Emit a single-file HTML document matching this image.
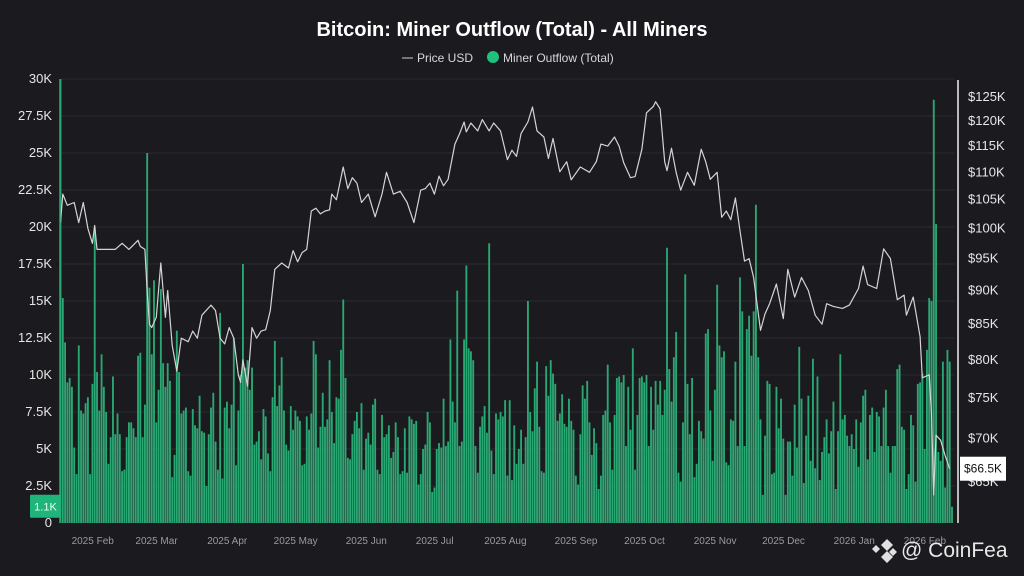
<!DOCTYPE html>
<html><head><meta charset="utf-8"><style>
html,body{margin:0;padding:0;background:#1b1b1f;}
#wrap{position:relative;width:1024px;height:576px;overflow:hidden;background:#1b1b1f;font-family:"Liberation Sans",sans-serif;}
svg text{font-family:"Liberation Sans",sans-serif;}
</style></head><body>
<div id="wrap">
<svg id="chart" width="1024" height="576">
<text x="512" y="36" text-anchor="middle" fill="#ffffff" font-size="20" font-weight="bold">Bitcoin: Miner Outflow (Total) - All Miners</text>
<g>
<g><line x1="402" y1="58" x2="413" y2="58" stroke="#cfcfcf" stroke-width="1"/><text x="417" y="62" fill="#d8d8d8" font-size="12">Price USD</text></g>
<g><circle cx="493" cy="57" r="6" fill="#21c07f"/><text x="503" y="62" fill="#d8d8d8" font-size="12">Miner Outflow (Total)</text></g>
</g>
<g id="grid"></g>
<g id="bars"></g>
<g id="price"></g>
<g id="axes"></g>
</svg>
</div>
<script>
const outflowK = [
30,15.2,12.2,9.5,9.8,9.2,5.1,3.3,12,7.6,
7.4,8.1,8.5,3.3,9.4,20,10.2,7.6,11.4,9.2,
7.5,4,5.8,9.9,6,7.4,6,3.5,3.6,5.8,
6.8,6.8,6.4,5.8,11.3,11.5,5.8,8,25,15.9,
11.4,16.4,6.8,9,15.8,10.8,9.2,10.8,9.6,3.1,
4.6,13,10.2,7.4,7.6,7.8,3.5,3.2,7.7,6.6,
6.4,8.6,6.2,6.1,2.5,6,7.8,8.8,5.5,3.6,
14.2,3,7.8,8.2,6.4,8,12.5,3.9,7.6,10,
17.5,10.5,11,9,10.5,5.3,5.5,6.2,4.3,7.7,
7.2,4.7,3.5,8.5,12.3,7.9,9.3,11.2,7.6,5.3,
4.9,7.9,6.3,7.6,7.2,6.9,3.9,4,7.2,6.3,
7.4,12.3,11.4,5.1,6.5,8.8,6.5,7,11,
7.5,5.4,8.5,8.4,11.7,15.1,
9.8,4.4,4.3,6,6.9,7.5,6.4,8.1,3.6,5.7,6.1,5.3,8,8.4,3.6,3.3,7.3,5.8,6,6.6,4.4,4.8,6.8,5.8,3.3,3.5,6.4,3.4,7.2,7,6.7,6.9,2.6,3.3,5,5.3,7.5,6.8,2.1,2.4,5,5.4,5.1,8.4,5.2,5.5,12.4,8.2,6.8,
15.7,5.2,5.5,12.4,17.4,
11.8,11.6,11,5.2,3.4,6.5,7.2,7.9,6.1,18.9,
4.9,3.3,7.4,7,7.5,7.2,8.3,3.2,8.3,2.9,6.6,4,5,6.3,4,5.8,15,
7.5,6.2,9.1,10.9,6.5,3.5,3.4,10.6,8.6,11,10.1,9.4,6.9,7.4,8.7,6.7,6.5,8.4,6.9,6.3,3.2,2.6,6,9.3,8.4,9.6,6.8,4.6,6.4,5.4,2.3,3.2,7.3,7.6,10.7,
6.8,3.6,7.3,9.8,9.9,9.5,10,5.2,9.2,6.3,11.8,
3.6,7.3,9.8,9.9,9.5,10,5.2,9.2,6.3,9.6,8,9.6,7.3,
9,18.6,
10.4,8.2,11.2,12.9,3.4,2.8,6.8,16.8,9.4,6,9.8,3.1,4,6.9,6.2,5.7,12.8,13.1,7.6,4.2,
9,16.1,12,11.2,11.6,4.1,3.9,7,6.9,10.9,5.2,16.6,14.3,5.2,13.1,14,11.3,14.3,21.5,11.2,
7,1.9,5.9,9.6,9.4,3.3,3.4,9.2,6.4,8.4,5.7,1.9,5.5,5.5,3.2,8,5.1,11.9,8.4,2.7,
5.9,8.6,4.2,11.1,3.7,9.9,2.9,4.8,5.8,7,4.7,6.2,8.2,2.3,6.2,11.4,7,7.3,5.9,5.2,
6,5,7,3.8,6.8,8.6,9,4.3,7.3,7.8,4.8,7.5,7.2,5.2,7.8,9,5.2,3.4,5.2,5.2,10.4,10.7,6.5,
6.3,2.3,3.3,7.3,6.6,2.8,9.4,9.5,10.1,5,11.7,15.2,15,28.6,20.2,4.8,4.2,10.9,2.4,11.7,10.9,1.1
];
const priceDays = [0,1,3,6,8,10,12,14,15,16,20,24,27,30,34,35,37,38,39,40,42,44,46,47,49,51,53,56,58,60,62,66,68,70,72,74,76,78,79,80,82,84,86,88,90,92,94,97,100,102,104,106,108,110,112,114,116,118,119,121,124,126,128,130,132,135,138,141,143,146,149,152,155,158,160,162,164,166,168,170,173,175,177,178,180,183,185,188,190,193,196,198,200,202,205,207,209,212,214,216,219,222,224,228,232,235,237,240,243,245,247,250,252,255,257,260,261,263,265,266,268,270,272,275,278,281,283,285,288,290,292,294,296,298,300,302,304,307,309,311,314,317,319,322,325,328,331,334,336,339,343,346,350,352,354,358,361,364,367,370,371,374,377,378,381,382,383,384,386,388,390];
const priceK = [101,106,104,104.5,101,104.5,100,97.5,100.5,96.5,96.5,96.5,97.5,96.5,98,97,96.5,90,85,84.5,86,94.3,86,90,82,78.5,83,82.5,84,83,86.3,87.8,87,83,82.2,84.5,83,78,77,80,76.5,84.5,83,84,84.2,87,93.3,94.3,93.5,96.3,94.5,96,96.5,103,103.5,102.5,103,103.2,106,105,111,107,109,108,104.5,106,102,106,110,106,106.5,104.5,101,106.7,107,108,106,109.3,107.5,108.7,115.4,117.4,119.8,117.8,119.6,118,120.3,118,119.6,118,112.4,114.2,113,117.5,119.8,122.9,118,116.8,112.6,116.5,110.1,112,108.6,111,110,112,115.4,115,116.8,115,111.8,109,109.2,114.4,121.7,123,124,122.5,112,110.3,114.6,110,106.7,110,107.6,114.4,112,108.7,110,101.9,103,101.5,105.3,99.7,94.6,95,92,84.1,86.5,88,91,85.8,93.3,89,92,90,86.3,85,88,87.6,87.3,87.8,90.3,93.8,90.9,90.3,96.6,95,88.6,89.3,86.3,89,83.2,77.6,78,73,63.6,70.4,69.8,68,66.5];
const leftTicks = [0,2.5,5,7.5,10,12.5,15,17.5,20,22.5,25,27.5,30];
const leftTickLabels = ["0","2.5K","5K","7.5K","10K","12.5K","15K","17.5K","20K","22.5K","25K","27.5K","30K"];
const rightTicks = [65,70,75,80,85,90,95,100,105,110,115,120,125];
const monthDays = [15,43,74,104,135,165,196,227,257,288,318,349,380];
const monthLabels = ["2025 Feb","2025 Mar","2025 Apr","2025 May","2025 Jun","2025 Jul","2025 Aug","2025 Sep","2025 Oct","2025 Nov","2025 Dec","2026 Jan","2026 Feb"];

const NS = "http://www.w3.org/2000/svg";
const X0 = 60.5, DX = 2.28, YB = 523, YT = 79;
function xDay(d){ return X0 + d*DX; }
function yLeft(v){ return YB - v/30*(YB-YT); }
function yPrice(p){ return 97 + 589*Math.log(125/p); }
function mk(tag, attrs, parent){ const e=document.createElementNS(NS,tag); for(const k in attrs) e.setAttribute(k,attrs[k]); parent.appendChild(e); return e; }

const grid=document.getElementById('grid'), bars=document.getElementById('bars'), pr=document.getElementById('price'), axes=document.getElementById('axes');

leftTicks.forEach((t,i)=>{
  const y=yLeft(t);
  if(t>0){ const gl=mk('line',{x1:62,x2:955,y1:y,y2:y,stroke:'#2a2a30','stroke-width':1},grid);
  
   }
  const tx=mk('text',{x:52,y:y+4,'text-anchor':'end',fill:'#e6e6e6','font-size':13},axes);
  tx.textContent=leftTickLabels[i];
  
  
});
rightTicks.forEach(t=>{
  const tx=mk('text',{x:968,y:yPrice(t)+4,fill:'#e6e6e6','font-size':13},axes);
  tx.textContent='$'+t+'K';
  
  
});
monthDays.forEach((d,i)=>{
  const tx=mk('text',{x:xDay(d)-2,y:544,'text-anchor':'middle',fill:'#9a9a9a','font-size':10},axes);
  tx.textContent=monthLabels[i];
  
  
});

outflowK.forEach((v,i)=>{
  const y=yLeft(v);
  const b=mk('rect',{x:xDay(i)-0.9,y:y,width:1.85,height:YB-y,fill:'#2aa873'},bars);
  
  
});

let dpath='';
priceDays.forEach((d,i)=>{ dpath+=(i?'L':'M')+xDay(d).toFixed(1)+','+yPrice(priceK[i]).toFixed(1); });
const pl=mk('path',{d:dpath,fill:'none',stroke:'#d4d4d4','stroke-width':1.2,'stroke-linejoin':'round'},pr);



const la=mk('line',{x1:60,x2:60,y1:79,y2:523,stroke:'#2aa873','stroke-width':1.5},axes);


const ra=mk('line',{x1:958,x2:958,y1:80,y2:523,stroke:'#f0f0f0','stroke-width':1.5},axes);



const lastV=outflowK[outflowK.length-1];
const lb=mk('rect',{x:30,y:yLeft(lastV)-12,width:31,height:23,fill:'#1fb57a',rx:1},axes);


const lt=mk('text',{x:45.5,y:yLeft(lastV)+4,'text-anchor':'middle',fill:'#e8fff4','font-size':11},axes);
lt.textContent=lastV+'K';



const lastP=priceK[priceK.length-1];
const pb=mk('rect',{x:960,y:yPrice(lastP)-12,width:46,height:24,fill:'#ffffff'},axes);


const pt=mk('text',{x:983,y:yPrice(lastP)+4,'text-anchor':'middle',fill:'#111','font-size':12},axes);
pt.textContent='$'+lastP+'K';



const wm=mk('g',{},axes);


mk('path',{d:'M881,545 l6,-6 6,6 -6,6z M872,549 l4,-4 4,4 -4,4z M889,552 l4,-4 4,4 -4,4z M881,557 l6,-6 6,6 -6,6z',fill:'#e0e0e0'},wm);
const wt=mk('text',{x:901,y:557,fill:'#e8e8e8','font-size':21},wm);
wt.textContent='@ CoinFea';
</script>
</body></html>
